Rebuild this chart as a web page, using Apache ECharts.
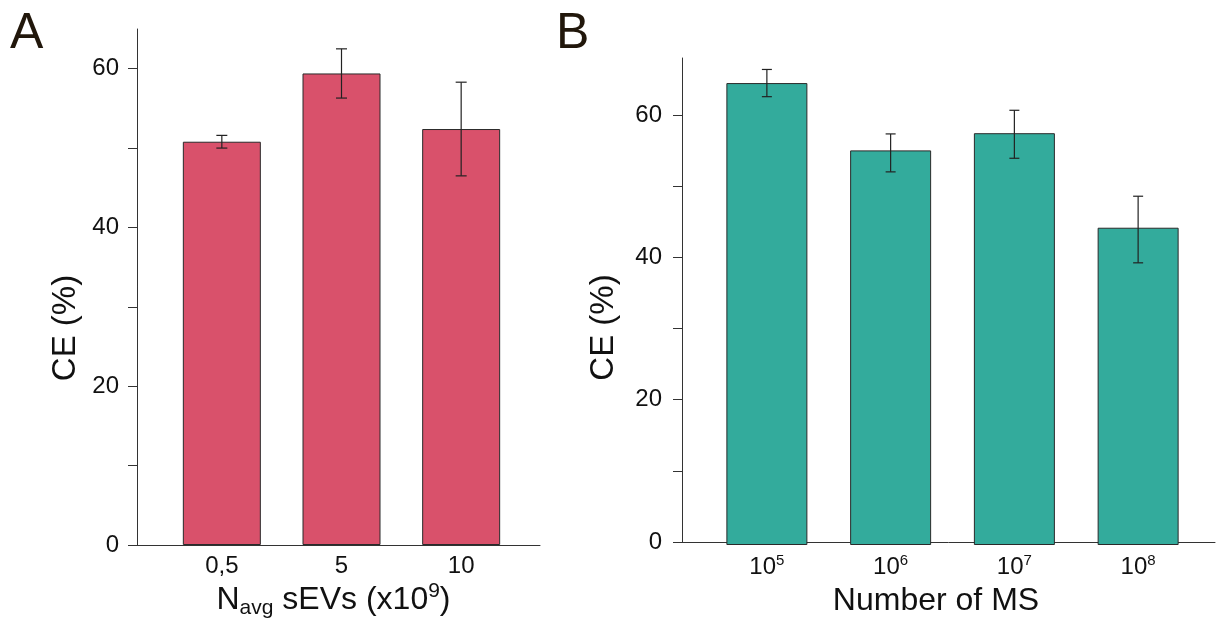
<!DOCTYPE html>
<html><head><meta charset="utf-8">
<script src="https://cdn.jsdelivr.net/npm/echarts@6/dist/echarts.min.js"></script>
<style>html,body{margin:0;padding:0;background:#fff}#c{width:1219px;height:625px}</style>
</head><body><div id="c"></div>
<script>
// ---- Panel A data ----
const catsA = ['0,5', '5', '10'];
const valsA = [50.8, 59.4, 52.4];
const lowA  = [50.0, 56.3, 46.5];
const highA = [51.6, 62.5, 58.3];
// ---- Panel B data ----
const catsB = ['10^5', '10^6', '10^7', '10^8'];
const valsB = [64.5, 55.1, 57.5, 44.3];
const lowB  = [62.6, 52.1, 54.0, 39.4];
const highB = [66.4, 57.4, 60.7, 48.7];
// ---- ticks ----
const yTicks = [0, 10, 20, 30, 40, 50, 60];
const yLabels = [0, 20, 40, 60];
const maxA = 65, maxB = 68;

const FONT = 'Liberation Sans, Arial, sans-serif';
const AX = '#333';
const TXT = '#111';

function frameY(grid, max, gap, pad, margin) {
  return {
    gridIndex: grid, type: 'value', min: 0, max: max,
    axisLine: {show: true, lineStyle: {color: AX, width: 1}},
    axisTick: {show: true, length: 9, customValues: yTicks, lineStyle: {color: AX, width: 1}},
    axisLabel: {customValues: yLabels, margin: margin, fontSize: 24, color: TXT, fontFamily: FONT},
    splitLine: {show: false},
    name: 'CE (%)', nameLocation: 'middle', nameRotate: 90, nameGap: gap,
    nameTextStyle: {fontSize: 33, color: TXT, fontFamily: FONT, padding: [0, pad, 0, 0]}
  };
}
function frameX(grid, name, gap, pad, rich) {
  return {
    gridIndex: grid, type: 'value', min: 0, max: 1,
    axisLine: {show: true, lineStyle: {color: AX, width: 1}},
    axisTick: {show: false}, axisLabel: {show: false}, splitLine: {show: false},
    name: name, nameLocation: 'middle', nameGap: gap,
    nameTextStyle: {fontSize: 32, lineHeight: 38, color: TXT, fontFamily: FONT, padding: [0, pad, 0, 0], rich: rich || {}}
  };
}
function hiddenY(grid, max) {
  return {gridIndex: grid, type: 'value', min: 0, max: max, show: false};
}
function errSeries(xi, yi, lows, highs, hw) {
  return {
    type: 'custom', xAxisIndex: xi, yAxisIndex: yi, z: 5,
    data: lows.map((l, i) => [i, l, highs[i]]),
    renderItem: function (params, api) {
      const x = api.value(0);
      const pLo = api.coord([x, api.value(1)]);
      const pHi = api.coord([x, api.value(2)]);
      const st = {stroke: '#222', lineWidth: 1.2};
      return {type: 'group', children: [
        {type: 'line', shape: {x1: pLo[0], y1: pLo[1], x2: pHi[0], y2: pHi[1]}, style: st},
        {type: 'line', shape: {x1: pLo[0] - hw, y1: pLo[1], x2: pLo[0] + hw, y2: pLo[1]}, style: st},
        {type: 'line', shape: {x1: pHi[0] - hw, y1: pHi[1], x2: pHi[0] + hw, y2: pHi[1]}, style: st}
      ]};
    }
  };
}

const chart = echarts.init(document.getElementById('c'), null, {renderer: 'canvas'});
chart.setOption({
  backgroundColor: '#fff',
  animation: false,
  title: [
    {text: 'A', left: 10, top: 9, padding: 0, textStyle: {fontSize: 50, fontWeight: 'normal', color: '#21170b', fontFamily: FONT}},
    {text: 'B', left: 556, top: 9, padding: 0, textStyle: {fontSize: 50, fontWeight: 'normal', color: '#21170b', fontFamily: FONT}}
  ],
  grid: [
    {left: 137, top: 29, width: 403, height: 516},   // A frame
    {left: 162, top: 29, width: 359, height: 516},   // A bars
    {left: 682, top: 58, width: 533, height: 487},   // B frame
    {left: 705, top: 58, width: 495, height: 487}    // B bars
  ],
  xAxis: [
    frameX(0, 'N{sub|avg} sEVs (x10{sup|9})', 36, 10, {
      sub: {fontSize: 21, verticalAlign: 'bottom', lineHeight: 21, color: TXT, fontFamily: FONT},
      sup: {fontSize: 21, verticalAlign: 'top', lineHeight: 21, color: TXT, fontFamily: FONT}
    }),
    {gridIndex: 1, type: 'category', data: catsA, axisLine: {show: false}, axisTick: {show: false},
      axisLabel: {fontSize: 24, color: TXT, fontFamily: FONT, margin: 9}},
    frameX(2, 'Number of MS', 40, 25),
    {gridIndex: 3, type: 'category', data: catsB, axisLine: {show: false}, axisTick: {show: false},
      axisLabel: {fontSize: 24, lineHeight: 28, color: TXT, fontFamily: FONT, margin: 8,
        formatter: function (v) { const p = v.split('^'); return p[0] + '{s|' + p[1] + '}'; },
        rich: {s: {fontSize: 15, lineHeight: 15, verticalAlign: 'top', color: TXT, fontFamily: FONT}}}}
  ],
  yAxis: [
    frameY(0, maxA, 55, 82, 18),
    hiddenY(1, maxA),
    frameY(2, maxB, 62, 55, 20),
    hiddenY(3, maxB)
  ],
  series: [
    {type: 'bar', xAxisIndex: 1, yAxisIndex: 1, data: valsA, barWidth: 78,
      itemStyle: {color: '#d9516b', borderColor: '#2a2a2a', borderWidth: 1}},
    errSeries(1, 1, lowA, highA, 5.5),
    {type: 'bar', xAxisIndex: 3, yAxisIndex: 3, data: valsB, barWidth: 81,
      itemStyle: {color: '#33ab9c', borderColor: '#2a2a2a', borderWidth: 1}},
    errSeries(3, 3, lowB, highB, 5)
  ]
});
</script></body></html>
